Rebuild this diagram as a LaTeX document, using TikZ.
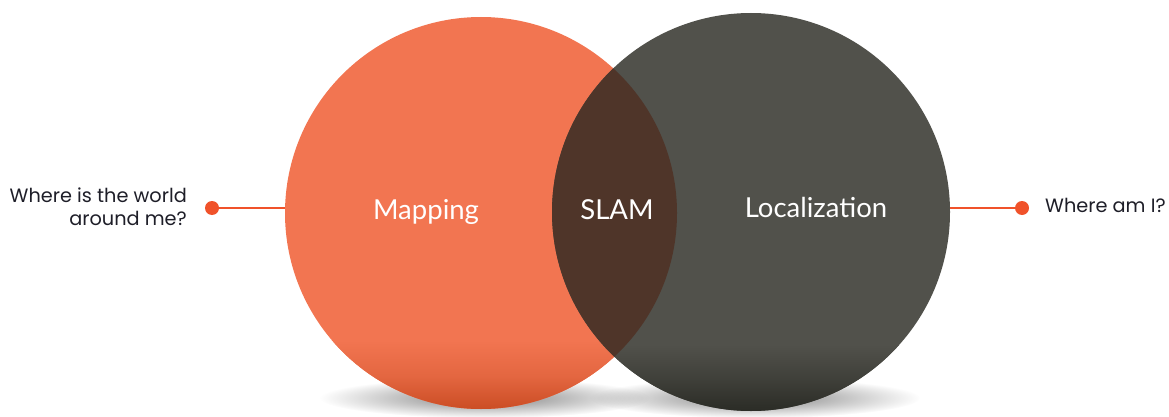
\documentclass[tikz,border=0pt]{standalone}
\usepackage{fontspec}
\setmainfont{Poppins}
\newfontfamily\circfont{Lato}
\usetikzlibrary{fadings}
\tikzfading[name=softshadow, inner color=transparent!0, outer color=transparent!100]
\definecolor{mapor}{HTML}{F27551}
\definecolor{mapordark}{HTML}{C94B22}
\definecolor{locgr}{HTML}{51514B}
\definecolor{locgrdark}{HTML}{2A2B25}
\definecolor{slambr}{HTML}{4F3529}
\definecolor{linkor}{HTML}{F0522A}
\definecolor{txtdark}{HTML}{1E1E28}
\tikzset{
  circlabel/.style={text=white, font=\circfont\fontsize{27.5}{32}\selectfont, anchor=base},
  sidelabel/.style={text=txtdark, font=\fontsize{19.3}{23}\selectfont},
  link/.style={draw=linkor, line width=1.8pt},
  dot/.style={circle, fill=linkor, inner sep=0pt, minimum size=14pt},
}
\begin{document}
\begin{tikzpicture}[x=1pt, y=-1pt]
\useasboundingbox (0,0) rectangle (1169,417);
% shadows
\fill[black, opacity=0.5, path fading=softshadow] (485,398) ellipse [x radius=165, y radius=20];
\fill[black, opacity=0.5, path fading=softshadow] (755,398) ellipse [x radius=165, y radius=20];
% circles
\coordinate (mapc) at (481,213);
\coordinate (locc) at (751,212);
\fill[mapor] (mapc) circle [radius=196];
\begin{scope}
  \clip (mapc) circle [radius=196];
  \shade[top color=mapor, bottom color=mapordark, middle color=mapor!65!mapordark] (250,340) rectangle (700,412);
\end{scope}
\fill[locgr] (locc) circle [radius=199];
\begin{scope}
  \clip (locc) circle [radius=199];
  \shade[top color=locgr, bottom color=locgrdark, middle color=locgr!55!locgrdark] (540,345) rectangle (960,412);
\end{scope}
\begin{scope}
  \clip (mapc) circle [radius=196];
  \fill[slambr] (locc) circle [radius=199];
\end{scope}
% labels in circles
\node[circlabel] (mapping) at (426,219) {Mapping};
\node[circlabel] (slam) at (617,219) {SLAM};
\node[circlabel] (loc) at (816,217) {Localization};
% side connectors
\node[dot] (ldot) at (212,208) {};
\node[dot] (rdot) at (1022,208) {};
\coordinate (ledge) at (285,208);
\coordinate (redge) at (950,208);
\draw[link] (ldot.center) -- (ledge);
\draw[link] (redge) -- (rdot.center);
\node[sidelabel, anchor=east, align=right, inner sep=0pt] (ltext) at (187,207) {Where is the world\\around me?};
\node[sidelabel, anchor=west, inner sep=0pt] (rtext) at (1045,205) {Where am I?};
\end{tikzpicture}
\end{document}
